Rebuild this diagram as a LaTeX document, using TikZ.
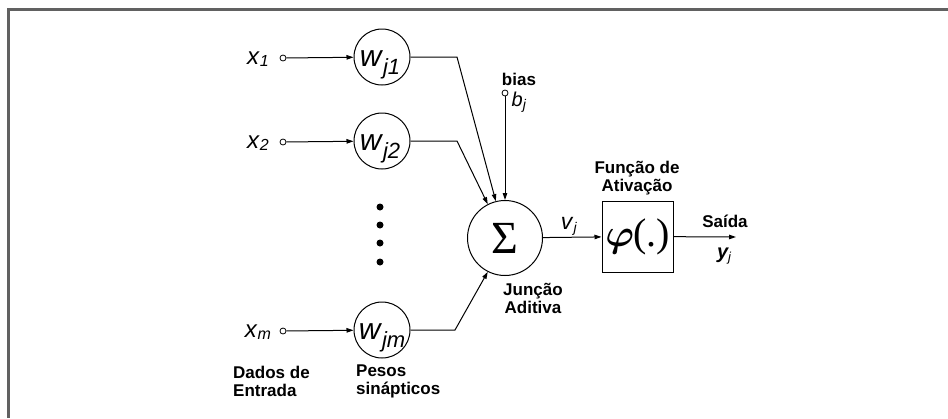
\documentclass[tikz,border=0pt]{standalone}
\usepackage{fontspec}
\usepackage{bm}
\setmainfont{Liberation Sans}
\newfontfamily\trm{Liberation Serif}
\usetikzlibrary{arrows.meta}
\newcommand\isub[5]{{\fontsize{#1}{#1}\selectfont\textit{#3}}\raisebox{-#5pt}{\fontsize{#2}{#2}\selectfont\textit{#4}}}
\begin{document}
\begin{tikzpicture}[x=1pt,y=-1pt,
  frameline/.style={line width=3pt, draw=black!62},
  wt/.style={circle, draw, line width=1pt, minimum size=56pt, inner sep=0pt},
  term/.style={circle, draw, line width=0.8pt, minimum size=6pt, inner sep=0pt, fill=white},
  arr/.style={line width=1pt, -{Triangle[length=7pt,width=4.5pt]}},
  lbl/.style={font=\fontsize{17}{19}\selectfont\bfseries, inner sep=0pt, align=left},
  dotn/.style={circle, fill, inner sep=0pt, minimum size=7pt},
  sym/.style={inner sep=0pt, anchor=base}]
\useasboundingbox (0,0) rectangle (948,418);
\draw[frameline] (948,9) -- (8,9) -- (8,418);

% input terminals and labels
\node[term] (t1) at (283,58) {};
\node[term] (t2) at (283,142) {};
\node[term] (tm) at (283,331) {};
\node[sym] (x1) at (258,64) {\isub{24}{16}{x}{1}{2}};
\node[sym] (x2) at (258,148) {\isub{24}{16}{x}{2}{2}};
\node[sym] (xm) at (258,337) {\isub{24}{16}{x}{m}{2}};

% weights
\node[wt] (w1) at (382,57) {};
\node[wt] (w2) at (382,141) {};
\node[wt] (wm) at (382,330) {};
\node[sym] (w1l) at (380,66) {\isub{30}{22}{w}{j1}{8}};
\node[sym] (w2l) at (380,150) {\isub{30}{22}{w}{j2}{8}};
\node[sym] (wml) at (382,339) {\isub{30}{22}{w}{jm}{8}};

\draw[arr] (t1) -- (w1);
\draw[arr] (t2) -- (w2);
\draw[arr] (tm) -- (wm);

% dots
\node[dotn] (d1) at (380,207) {};
\node[dotn] (d2) at (380,225) {};
\node[dotn] (d3) at (380,243) {};
\node[dotn] (d4) at (380,262) {};

% summing junction
\node[circle, draw, line width=1pt, minimum size=75pt, inner sep=0pt] (S) at (505,238) {\trm\fontsize{46}{46}\selectfont Σ};
\coordinate (c1) at (457,57);
\coordinate (c2) at (457,141);
\coordinate (cm) at (455,330);
\draw[arr] (w1) -- (c1) -- (S.104);
\draw[arr] (w2) -- (c2) -- (S.117);
\draw[arr] (wm) -- (cm) -- (S.243);

% bias
\node[term] (tb) at (505,93) {};
\node[lbl] (bias) at (519,79) {bias};
\node[sym] (bj) at (519,106) {\isub{20}{14}{b}{j}{3}};
\draw[arr] (tb) -- (S);

% activation
\node[draw, line width=1pt, minimum size=71pt, inner sep=0pt] (phi) at (637.5,236.5) {\fontsize{24}{24}\selectfont\scalebox{1.55}{$\bm{\varphi}$}\kern-1pt{\trm\fontsize{40}{40}\selectfont(.)}};
\draw[arr] (S) -- (phi);
\node[sym] (vj) at (569,229) {\isub{23}{14}{v}{j}{3}};
\coordinate (out) at (736,237);
\draw[arr] (phi) -- (out);
\node[lbl, align=center] (fa) at (637,178) {Função de\\[-1pt]Ativação};
\node[lbl] (saida) at (725,221) {Saída};
\node[sym] (yj) at (724,258) {{\fontsize{20}{20}\selectfont\bfseries\itshape y}\raisebox{-3pt}{\fontsize{13}{13}\selectfont\itshape j}};

% captions
\node[lbl, align=center] (ja) at (533,298) {Junção\\[-1pt]Aditiva};
\node[lbl, anchor=west] (de) at (233,381) {Dados de\\[-1pt]Entrada};
\node[lbl, anchor=west] (ps) at (356,381) {Pesos\\[-1pt]sinápticos};
\end{tikzpicture}
\end{document}
